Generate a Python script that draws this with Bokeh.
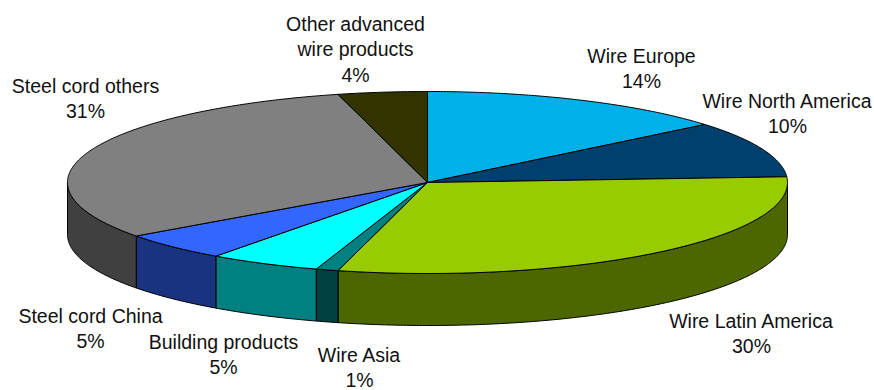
import numpy as np
from bokeh.plotting import figure
from bokeh.models import ColumnDataSource, Range1d
from bokeh.embed import file_html
from bokeh.resources import INLINE
from bokeh.core.properties import value

# Revenue split by segment (percent of total)
segments = ["Wire Europe", "Wire North America", "Wire Latin America", "Wire Asia",
            "Building products", "Steel cord China", "Steel cord others",
            "Other advanced wire products"]
shares = [14, 10, 30, 1, 5, 5, 31, 4]
label_names = ["Wire Europe", "Wire North America", "Wire Latin America", "Wire Asia",
               "Building products", "Steel cord China", "Steel cord others",
               "Other advanced\nwire products"]

# Styling
top_colors = ["#00B0E8", "#00406E", "#99CC00", "#008080",
              "#00FFFF", "#3366FF", "#808080", "#333300"]
side_colors = ["#005874", "#002037", "#4C6600", "#004040",
               "#008080", "#1A3380", "#404040", "#1A1A00"]

# Pie geometry in screen pixels (y grows downwards)
CX, CY = 427.0, 182.0
RX, RY = 360.0, 91.0
DEPTH = 52.0

# Label anchors (block centres)
label_x = [641, 787, 751, 359, 223, 90, 85, 355]
label_y = [68, 113, 333, 367, 354, 328, 98, 49]


def ellipse_pt(theta_deg, dy=0.0):
    t = np.radians(theta_deg)
    return CX + RX * np.sin(t), CY - RY * np.cos(t) + dy


total = float(sum(shares))
bounds = np.concatenate([[0.0], np.cumsum(shares) / total * 360.0])

side_xs, side_ys, side_fill = [], [], []
top_xs, top_ys, top_fill = [], [], []
for i, share in enumerate(shares):
    a0, a1 = bounds[i], bounds[i + 1]
    n = max(int((a1 - a0) * 2), 8)
    # top face wedge
    th = np.linspace(a0, a1, n)
    x, y = ellipse_pt(th)
    top_xs.append(np.concatenate([[CX], x]).tolist())
    top_ys.append(np.concatenate([[CY], y]).tolist())
    top_fill.append(top_colors[i])
    # front wall (only the part between 90 and 270 degrees faces the viewer)
    s, e = max(a0, 90.0), min(a1, 270.0)
    if e > s:
        th = np.linspace(s, e, max(int((e - s) * 2), 8))
        xt, yt = ellipse_pt(th)
        xb, yb = ellipse_pt(th[::-1], DEPTH)
        side_xs.append(np.concatenate([xt, xb]).tolist())
        side_ys.append(np.concatenate([yt, yb]).tolist())
        side_fill.append(side_colors[i])

p = figure(width=874, height=390, x_range=Range1d(0, 874), y_range=Range1d(390, 0),
           output_backend="svg", toolbar_location=None, min_border=0)
p.axis.visible = False
p.xgrid.visible = False
p.ygrid.visible = False
p.outline_line_color = None
p.background_fill_color = "white"
p.border_fill_color = "white"

p.patches("xs", "ys", source=ColumnDataSource(dict(xs=side_xs, ys=side_ys, fill=side_fill)),
          fill_color="fill", line_color="black", line_width=1)
p.patches("xs", "ys", source=ColumnDataSource(dict(xs=top_xs, ys=top_ys, fill=top_fill)),
          fill_color="fill", line_color="black", line_width=1)

labels = [f"{n}\n{int(round(s / total * 100))}%" for n, s in zip(label_names, shares)]
p.text(x=label_x, y=label_y, text=labels, text_align="center", text_baseline="middle",
       text_font=value("Liberation Sans"), text_font_size="19.5px", text_color="#111111",
       text_line_height=1.15)

open("out.html", "w").write(file_html(p, INLINE))
